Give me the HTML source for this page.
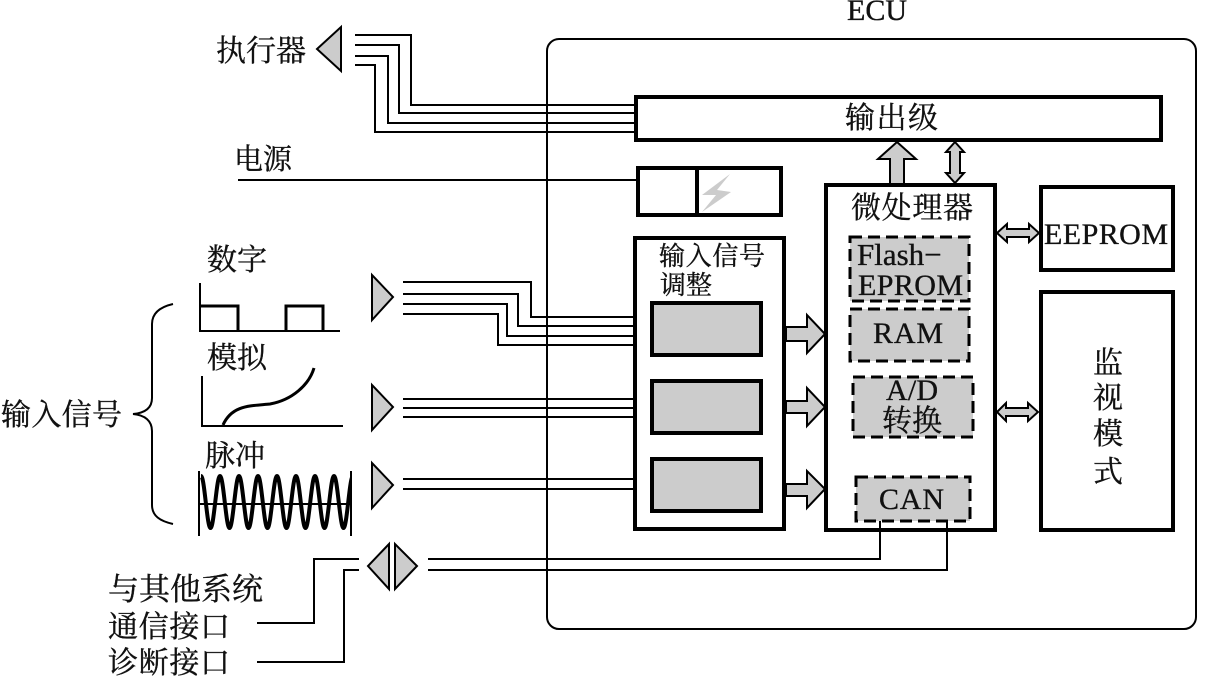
<!DOCTYPE html>
<html lang="zh">
<head>
<meta charset="utf-8">
<title>ECU</title>
<style>
html,body{margin:0;padding:0;background:#fff;width:1225px;height:677px;overflow:hidden}
svg{display:block}
text{font-family:"Liberation Serif","Noto Serif CJK SC",serif;fill:#111;font-size:30px;stroke:#111;stroke-width:.35px}
.l{fill:none;stroke:#000;stroke-width:2}
.b{fill:#fff;stroke:#000;stroke-width:4}
.g{fill:#ccc;stroke:#000;stroke-width:4}
.d{fill:#ccc;stroke:#000;stroke-width:3;stroke-dasharray:12 6}
.t{fill:#ccc;stroke:#000;stroke-width:2;stroke-linejoin:miter}
</style>
</head>
<body>
<svg width="1225" height="677" viewBox="0 0 1225 677" xmlns="http://www.w3.org/2000/svg">
<defs><clipPath id="c"><rect x="199" y="465" width="152" height="75"/></clipPath></defs>
<rect x="547" y="39" width="649" height="590" rx="12" class="l"/>

<!-- actuator -->
<polygon class="t" points="341,27 341,71 317,49"/>
<path class="l" d="M355 35H411V105H635M355 45H399V113H635M355 56H388V123H635M355 65H375V132H635"/>

<!-- power -->
<path class="l" d="M238 180H638"/>

<!-- output stage -->
<rect x="636" y="97" width="525" height="43" class="b"/>

<!-- regulator -->
<rect x="638" y="168" width="143" height="47" class="b"/>
<path d="M697 168V215" stroke="#000" stroke-width="4"/>
<polygon points="730,174 702,195 716,195 702,212 731,192 717,190" fill="#ccc"/>

<!-- input conditioning -->
<rect x="635" y="238" width="149" height="291" class="b"/>
<rect x="652" y="303" width="109" height="52" class="g"/>
<rect x="652" y="381" width="109" height="52" class="g"/>
<rect x="652" y="459" width="109" height="52" class="g"/>

<!-- input signal lines -->
<path class="l" d="M403 282H531V317H634M403 294H518V326H634M403 304H507V336H634M403 314H498V345H634"/>
<path class="l" d="M403 399H634M403 408H634M403 417H634M403 479H634M403 489H634"/>
<polygon class="t" points="372,275 372,320 393,297"/>
<polygon class="t" points="372,385 372,430 393,407"/>
<polygon class="t" points="372,463 372,508 393,485"/>

<!-- micro -->
<rect x="826" y="185" width="169" height="345" class="b"/>
<rect x="850" y="237" width="119" height="64" class="d"/>
<rect x="850" y="309" width="119" height="52" class="d"/>
<rect x="853" y="377" width="120" height="60" class="d"/>
<rect x="856" y="477" width="114" height="44" class="d"/>

<rect x="1041" y="187" width="132" height="83" class="b"/>
<rect x="1041" y="292" width="132" height="238" class="b"/>

<!-- block arrows -->
<polygon class="t" points="897,142 916,159 904,159 904,184 890,184 890,159 878,159"/>
<polygon class="t" points="955,142 964,152 960,152 960,173 964,173 955,183 946,173 950,173 950,152 946,152"/>
<polygon class="t" points="786,327 807,327 807,315 825,334 807,353 807,341 786,341"/>
<polygon class="t" points="786,401 807,401 807,388 825,407 807,426 807,413 786,413"/>
<polygon class="t" points="786,484 807,484 807,471 825,489 807,508 807,496 786,496"/>
<polygon class="t" points="997,233 1007,224 1007,229 1029,229 1029,224 1039,233 1029,242 1029,237 1007,237 1007,242"/>
<polygon class="t" points="997,412 1006,403 1006,408 1028,408 1028,403 1038,412 1028,421 1028,416 1006,416 1006,421"/>

<!-- comms -->
<polygon class="t" points="389,544 389,589 368,566"/>
<polygon class="t" points="395,544 395,589 417,566"/>
<path class="l" d="M359 559H314V623H257M359 570H344V662H257"/>
<path class="l" d="M428 559H880V521M428 570H947V521"/>

<!-- signal graphs -->
<path class="l" d="M200 283V331H340"/>
<path d="M200 306H238V331M286 331V306H323V331" fill="none" stroke="#000" stroke-width="3"/>
<path class="l" d="M202 376V426H343"/>
<path d="M223 425C232 405 250 406 270 404C292 400 309 385 314 368" fill="none" stroke="#000" stroke-width="3"/>
<path class="l" d="M199 471V536M351 471V536M199 504H351"/>
<path clip-path="url(#c)" fill="none" stroke="#000" stroke-width="4" d="M201 476c3.5 0 6 52 9.5 52c3.5 0 6 -52 9.5 -52c3.5 0 6 52 9.5 52c3.5 0 6 -52 9.5 -52c3.5 0 6 52 9.5 52c3.5 0 6 -52 9.5 -52c3.5 0 6 52 9.5 52c3.5 0 6 -52 9.5 -52c3.5 0 6 52 9.5 52c3.5 0 6 -52 9.5 -52c3.5 0 6 52 9.5 52c3.5 0 6 -52 9.5 -52c3.5 0 6 52 9.5 52c3.5 0 6 -52 9.5 -52c3.5 0 6 52 9.5 52c3.5 0 6 -52 9.5 -52"/>
<path class="l" d="M173 304C160 307 152 313 152 324V398C152 408 145 413 133 414C145 415 152 421 152 431V505C152 516 160 521 173 524"/>

<!-- labels -->
<text x="847" y="20" textLength="60">ECU</text>
<text x="216" y="61">执行器</text>
<text x="234" y="169" style="font-size:29px">电源</text>
<text x="845" y="128" textLength="93">输出级</text>
<text x="851" y="218" textLength="122">微处理器</text>
<text x="659" y="265" style="font-size:26px" textLength="106">输入信号</text>
<text x="660" y="294" style="font-size:26px">调整</text>
<text x="1044" y="244" textLength="124">EEPROM</text>
<text x="857" y="265" style="font-size:31px">Flash−</text>
<text x="858" y="295" textLength="105">EPROM</text>
<text x="873" y="343" textLength="70">RAM</text>
<text x="886" y="400" textLength="52">A/D</text>
<text x="882" y="431">转换</text>
<text x="879" y="509" textLength="65">CAN</text>
<text x="1093" y="373">监</text>
<text x="1093" y="408">视</text>
<text x="1093" y="444">模</text>
<text x="1093" y="482">式</text>
<text x="207" y="270">数字</text>
<text x="207" y="368">模拟</text>
<text x="205" y="466">脉冲</text>
<text x="1" y="425" textLength="121">输入信号</text>
<text x="108" y="600" style="font-size:31px">与其他系统</text>
<text x="108" y="637" textLength="122">通信接口</text>
<text x="108" y="673" textLength="122">诊断接口</text>
</svg>
</body>
</html>
